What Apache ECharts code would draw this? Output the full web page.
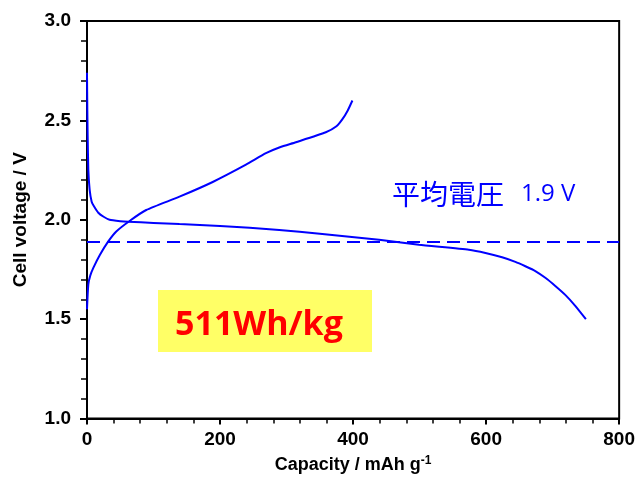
<!DOCTYPE html>
<html><head><meta charset="utf-8">
<script src="https://cdn.jsdelivr.net/npm/echarts@6/dist/echarts.min.js"></script>
<style>html,body{margin:0;padding:0;background:#fff}#c{width:638px;height:479px}</style>
</head><body><div id="c"></div>
<script>
// Discharge curve [capacity mAh/g, voltage V]
const dischargeData = [[0,2.74],[0.5,2.55],[1,2.42],[2,2.25],[4,2.15],[7,2.09],[10,2.07],[17,2.035],[25,2.015],[34,2.0],[50,1.993],[62,1.99],[100,1.984],[139,1.978],[200,1.969],[289,1.949],[350,1.93],[439,1.899],[499,1.874],[574,1.849],[599,1.833],[624,1.811],[644,1.788],[659,1.766],[674,1.742],[689,1.708],[704,1.667],[719,1.622],[734,1.567],[750,1.50]];
// Charge curve
const chargeData = [[0,1.55],[2,1.675],[5,1.72],[9.5,1.758],[19.5,1.824],[32,1.891],[44,1.941],[64,1.994],[89,2.049],[139,2.116],[189,2.19],[239,2.277],[269,2.335],[290,2.365],[314,2.39],[359,2.44],[375,2.47],[384,2.506],[392,2.55],[399,2.60]];
const avgVoltage = 1.89;
const xTicks = {min:0, max:800, interval:200};
const yTicks = {min:1.0, max:3.0, interval:0.5};
const avgLabel = '平均電圧';
const avgValueLabel = '1.9 V';
const energyLabel = '511Wh/kg';

const chart = echarts.init(document.getElementById('c'));
const FF = 'Liberation Sans, Arial, sans-serif';
chart.setOption({
  animation:false,
  grid:{left:87, right:17, top:21, bottom:57, show:true, borderColor:'#000', borderWidth:2},
  xAxis:{type:'value', min:xTicks.min, max:xTicks.max, interval:xTicks.interval,
    name:'Capacity / mAh g{sup|-1}', nameLocation:'middle', nameGap:36,
    nameTextStyle:{color:'#000', fontWeight:'bold', fontSize:18, fontFamily:FF,
      rich:{sup:{fontSize:12, fontWeight:'bold', fontFamily:FF, verticalAlign:'top', padding:[0,0,9,0]}}},
    axisLine:{lineStyle:{color:'#000', width:2}},
    axisTick:{inside:false, length:6, lineStyle:{color:'#000', width:2}},
    minorTick:{show:true, splitNumber:5, length:5, lineStyle:{color:'#000', width:1.5}},
    splitLine:{show:false},
    axisLabel:{color:'#000', fontWeight:'bold', fontSize:19, fontFamily:FF, margin:12}},
  yAxis:{type:'value', min:yTicks.min, max:yTicks.max, interval:yTicks.interval,
    name:'Cell voltage / V', nameLocation:'middle', nameGap:57, nameRotate:90,
    nameTextStyle:{color:'#000', fontWeight:'bold', fontSize:19, fontFamily:FF},
    axisLine:{lineStyle:{color:'#000', width:2}},
    axisTick:{inside:false, length:7, lineStyle:{color:'#000', width:2}},
    minorTick:{show:true, splitNumber:5, length:6, lineStyle:{color:'#000', width:1.5}},
    splitLine:{show:false},
    axisLabel:{color:'#000', fontWeight:'bold', fontSize:19, fontFamily:FF, margin:16, formatter:v=>v.toFixed(1)}},
  series:[
    {type:'line', data:dischargeData, smooth:0.15, symbol:'none', lineStyle:{color:'#0000ff', width:2}, z:3,
     markLine:{silent:true, symbol:'none', label:{show:false},
       lineStyle:{color:'#0000ff', width:2, type:[13,7]},
       data:[[{coord:[xTicks.min, avgVoltage]},{coord:[xTicks.max, avgVoltage]}]]}},
    {type:'line', data:chargeData, smooth:0.2, symbol:'none', lineStyle:{color:'#0000ff', width:2}, z:3}
  ],
  graphic:[
    {type:'rect', left:158, top:290, shape:{width:214, height:62}, style:{fill:'#ffff66'}, z:1},
    {type:'text', left:175, top:308, style:{text:energyLabel, fill:'#ff0000', font:'bold 34px "Open Sans", "Liberation Sans", sans-serif'}, z:5},
    {type:'text', left:392, top:180, style:{text:avgLabel, fill:'#0000ff', font:'28px "Noto Sans CJK JP", sans-serif'}, z:5},
    {type:'text', left:521, top:182, style:{text:avgValueLabel, fill:'#0000ff', font:'24px "Open Sans", "Liberation Sans", sans-serif'}, z:5}
  ]
});
</script></body></html>
